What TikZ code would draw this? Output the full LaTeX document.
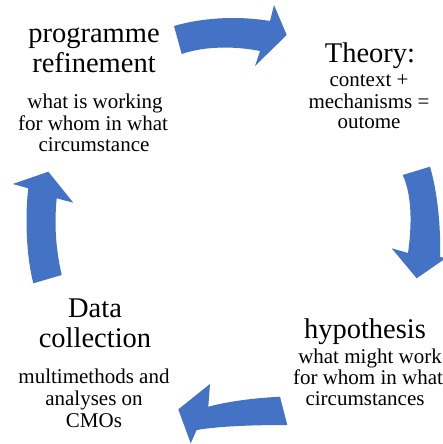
\documentclass[tikz,border=0pt]{standalone}
\usepackage{fontspec}
\setmainfont{Liberation Serif}
\begin{document}
\begin{tikzpicture}[x=1pt,y=-1pt,
  bigtext/.style={anchor=base,inner sep=0pt,
    font=\fontsize{28.5}{30}\selectfont},
  smalltext/.style={anchor=base,inner sep=0pt,
    font=\fontsize{21}{21.5}\selectfont},
  cyclearrow/.style={fill=arrowblue,draw=none}]
\definecolor{arrowblue}{HTML}{4472C4}
\useasboundingbox (0,0) rectangle (443,444);

% stage labels, one node per line
\node[bigtext] (refineA) at (94,42) {programme};
\node[bigtext] (refineB) at (94,72) {refinement};
\node[smalltext] (refineC) at (95,108) {what is working};
\node[smalltext] (refineD) at (93,130) {for whom in what};
\node[smalltext] (refineE) at (94,151) {circumstance};

\node[bigtext] (theoryA) at (370,63) {Theory:};
\node[smalltext] (theoryB) at (369,86) {context +};
\node[smalltext] (theoryC) at (369,108) {mechanisms =};
\node[smalltext] (theoryD) at (369,128) {outome};

\node[bigtext] (hypoA) at (365,338) {hypothesis};
\node[smalltext] (hypoB) at (370,363) {what might work};
\node[smalltext] (hypoC) at (368,384) {for whom in what};
\node[smalltext] (hypoD) at (365,405) {circumstances};

\node[bigtext] (dataA) at (95,317) {Data};
\node[bigtext] (dataB) at (95,347) {collection};
\node[smalltext] (dataC) at (94,383) {multimethods and};
\node[smalltext] (dataD) at (94,405) {analyses on};
\node[smalltext] (dataE) at (94,427) {CMOs};

% curved block arrows of the cycle
\fill[cyclearrow] (174,26) .. controls (205,17) and (240,16) .. (270,21)
  -- (274,5) -- (286.7,35) -- (255,66) -- (260,51)
  .. controls (235,46) and (205,46) .. (181.7,54) -- cycle;

\fill[cyclearrow] (402.7,175) -- (430,166.7)
  .. controls (437,190) and (441,225) .. (440,257)
  -- (446,258) -- (416.7,278.3) -- (391.7,248.3) -- (408,253)
  .. controls (412,225) and (412,195) .. (402.7,175) -- cycle;

\fill[cyclearrow] (280,396.7) .. controls (255,398) and (230,401) .. (208.3,406.7)
  -- (210,384) -- (178.3,409.3) -- (190.7,443.3) -- (196.7,430)
  .. controls (220,426) and (255,425) .. (287.3,425) -- cycle;

\fill[cyclearrow] (33.3,283.3) .. controls (26,255) and (25,215) .. (28.3,188.3)
  -- (12.7,184) -- (48.3,171.7) -- (73.3,202.7) -- (56.7,198.3)
  .. controls (54,225) and (56,250) .. (61.7,275) -- cycle;
\end{tikzpicture}
\end{document}
